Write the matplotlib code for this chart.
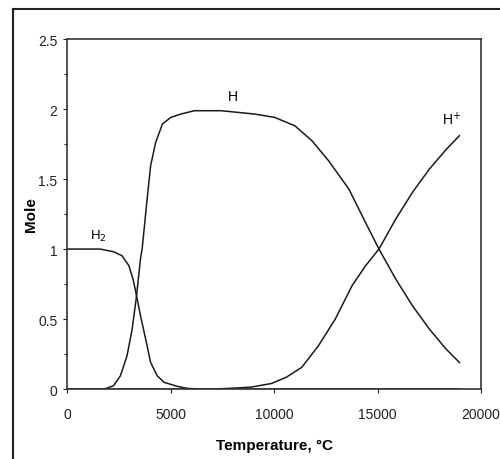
import matplotlib
matplotlib.use("Agg")
import matplotlib.pyplot as plt
from matplotlib.lines import Line2D
from matplotlib.ticker import MultipleLocator

plt.rcParams["font.family"] = ["Liberation Sans", "DejaVu Sans"]

# Values
temp_h2 = [0, 1600, 2250, 2660, 2990, 3190, 3360, 3550, 3800, 4040, 4360, 4690,
           5340, 5820, 6500, 19000]
mole_h2 = [1.0, 1.0, 0.981, 0.952, 0.881, 0.786, 0.667, 0.524, 0.357, 0.19, 0.095,
           0.048, 0.019, 0.005, 0.0, 0.0]

temp_h = [0, 1800, 2250, 2580, 2900, 3150, 3360, 3550, 3630, 3870, 4040, 4280,
          4610, 5010, 5500, 6150, 7440, 9070, 10040, 11010, 11830, 12640,
          13610, 14420, 15070, 15880, 16690, 17500, 18310, 18960]
mole_h = [0.0, 0.0, 0.024, 0.095, 0.238, 0.43, 0.667, 0.93, 1.0, 1.357, 1.595, 1.76,
          1.893, 1.94, 1.964, 1.988, 1.988, 1.964, 1.94, 1.88, 1.774, 1.63,
          1.43, 1.19, 1.0, 0.786, 0.595, 0.43, 0.286, 0.19]

temp_hp = [0, 7000, 8100, 8900, 9880, 10600, 11340, 12150, 12960, 13770, 14420,
           15070, 15880, 16690, 17500, 18310, 18960]
mole_hp = [0.0, 0.0, 0.007, 0.014, 0.04, 0.085, 0.155, 0.31, 0.5, 0.738, 0.88,
           1.0, 1.214, 1.405, 1.57, 1.71, 1.81]

fig = plt.figure(figsize=(5, 4.6), dpi=100)
ax = fig.add_axes([0.134, 0.152, 0.828, 0.761])

line_kw = dict(color="#1a1a1a", linewidth=1.1)
ax.plot(temp_h2, mole_h2, **line_kw)
ax.plot(temp_h, mole_h, **line_kw)
ax.plot(temp_hp, mole_hp, **line_kw)

ax.set_xlim(0, 20000)
ax.set_ylim(0, 2.5)
ax.set_xticks([0, 5000, 10000, 15000, 20000])
ax.set_yticks([0, 0.5, 1, 1.5, 2, 2.5])
ax.set_yticklabels(["0", "0.5", "1", "1.5", "2", "2.5"])
ax.yaxis.set_minor_locator(MultipleLocator(0.25))
ax.tick_params(which="both", direction="out", length=3, width=0.8,
               labelsize=10, colors="#222222", pad=10)
ax.tick_params(axis="y", pad=4)
ax.tick_params(which="minor", length=2)
for s in ax.spines.values():
    s.set_linewidth(1.2)
    s.set_color("#333333")

ax.set_xlabel("Temperature, \u00b0C", fontsize=11, fontweight="bold", labelpad=12)
ax.set_ylabel("Mole", fontsize=11, fontweight="bold", labelpad=0)

ax.text(1500, 1.1, "H$_2$", fontsize=9.5, ha="center", va="center")
ax.text(8000, 2.09, "H", fontsize=10, ha="center", va="center")
ax.text(18600, 1.93, "H$^{+}$", fontsize=10, ha="center", va="center")

# outer frame of the scanned figure
fig.add_artist(Line2D([0.026, 0.026], [0.0, 0.978], transform=fig.transFigure,
                      color="#222222", linewidth=1.5))
fig.add_artist(Line2D([0.026, 1.0], [0.978, 0.978], transform=fig.transFigure,
                      color="#222222", linewidth=1.5))

fig.savefig("out.png", dpi=100)
